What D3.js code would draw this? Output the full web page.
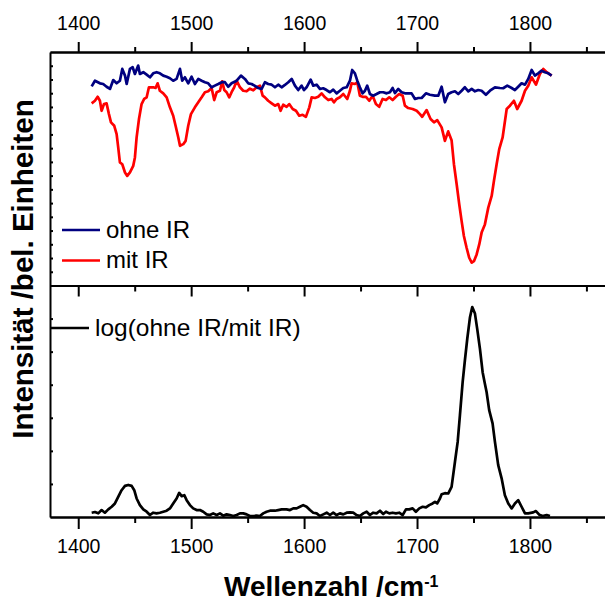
<!DOCTYPE html>
<meta charset="utf-8" />
<head>
  <style>
    body {
      margin: 0;
      background: #fff;
    }
    svg text {
      font-family: "Liberation Sans", Arial, sans-serif;
    }
    .frame path,
    .frame line {
      stroke: #000;
      stroke-width: 2;
    }
  </style>
</head>
<script src="https://d3js.org/d3.v7.min.js"></script>
<body>
  <div id="chart"></div>
  <script>
    // Raman spectrum with / without IR, plus log ratio in the lower panel

    ////////////////////////////////////
    ///////////// Data /////////////////
    ////////////////////////////////////

    // ohne IR (blue)
    const ohneWn = [1411.9, 1414.8, 1419.2, 1422.1, 1425.1, 1428.1, 1431.0, 1434.0, 1436.9, 1439.0, 1441.4, 1442.9, 1445.8, 1448.2, 1450.2, 1453.1, 1454.6, 1457.6, 1460.6, 1463.5, 1466.4, 1469.4, 1472.3, 1475.3, 1478.3, 1481.2, 1484.1, 1487.1, 1490.1, 1492.1, 1494.5, 1497.4, 1500.4, 1503.3, 1506.3, 1509.3, 1512.2, 1515.1, 1518.1, 1521.0, 1524.0, 1527.0, 1529.9, 1532.8, 1535.8, 1540.3, 1544.1, 1547.6, 1550.5, 1553.5, 1556.5, 1559.4, 1562.4, 1565.3, 1568.2, 1571.3, 1574.2, 1577.1, 1580.1, 1583.0, 1586.0, 1589.0, 1591.9, 1594.8, 1597.8, 1599.9, 1602.2, 1605.8, 1608.1, 1611.1, 1614.0, 1616.9, 1619.9, 1622.9, 1625.8, 1628.8, 1631.7, 1634.7, 1637.7, 1640.6, 1642.6, 1645.0, 1647.1, 1649.4, 1651.8, 1653.9, 1655.9, 1658.3, 1661.2, 1664.2, 1667.2, 1670.1, 1673.1, 1676.0, 1678.4, 1680.4, 1683.4, 1686.4, 1689.3, 1692.2, 1695.2, 1698.2, 1701.1, 1704.1, 1707.9, 1711.4, 1715.8, 1718.8, 1721.8, 1724.7, 1727.6, 1730.6, 1733.6, 1736.5, 1739.5, 1742.4, 1745.4, 1748.4, 1751.3, 1754.2, 1757.2, 1761.0, 1764.6, 1769.0, 1773.4, 1776.3, 1779.9, 1783.8, 1786.7, 1789.6, 1792.6, 1795.6, 1798.5, 1801.5, 1804.4, 1807.3, 1810.3, 1813.2, 1816.2, 1819.2];
    const ohneInt = [1.450, 1.491, 1.472, 1.467, 1.447, 1.431, 1.496, 1.472, 1.491, 1.577, 1.528, 1.467, 1.577, 1.589, 1.540, 1.601, 1.540, 1.553, 1.535, 1.516, 1.545, 1.553, 1.545, 1.528, 1.520, 1.509, 1.491, 1.504, 1.577, 1.491, 1.516, 1.472, 1.520, 1.467, 1.504, 1.491, 1.480, 1.472, 1.443, 1.455, 1.467, 1.480, 1.480, 1.447, 1.472, 1.491, 1.528, 1.504, 1.472, 1.467, 1.453, 1.438, 1.431, 1.480, 1.467, 1.462, 1.443, 1.462, 1.443, 1.460, 1.480, 1.504, 1.455, 1.423, 1.455, 1.423, 1.443, 1.499, 1.455, 1.462, 1.431, 1.436, 1.423, 1.407, 1.426, 1.399, 1.418, 1.438, 1.443, 1.491, 1.569, 1.545, 1.491, 1.443, 1.399, 1.418, 1.455, 1.394, 1.382, 1.394, 1.407, 1.407, 1.399, 1.407, 1.438, 1.401, 1.431, 1.407, 1.399, 1.399, 1.399, 1.358, 1.365, 1.365, 1.399, 1.389, 1.382, 1.382, 1.447, 1.334, 1.394, 1.407, 1.414, 1.394, 1.418, 1.443, 1.414, 1.431, 1.414, 1.423, 1.418, 1.389, 1.418, 1.443, 1.438, 1.436, 1.455, 1.438, 1.423, 1.447, 1.472, 1.462, 1.504, 1.569, 1.528, 1.545, 1.564, 1.553, 1.545, 1.528];

    // mit IR (red)
    const mitWn = [1411.9, 1414.8, 1417.2, 1419.2, 1420.7, 1422.8, 1425.1, 1427.2, 1429.0, 1431.9, 1434.0, 1435.4, 1436.9, 1439.0, 1441.4, 1443.4, 1445.8, 1448.7, 1450.2, 1451.7, 1453.8, 1456.1, 1458.4, 1460.6, 1462.6, 1466.4, 1468.5, 1470.3, 1472.3, 1475.3, 1478.3, 1481.2, 1484.1, 1486.2, 1488.6, 1490.1, 1493.0, 1495.1, 1497.4, 1499.8, 1503.3, 1506.3, 1509.3, 1512.2, 1515.1, 1518.1, 1520.4, 1522.6, 1525.5, 1527.5, 1529.3, 1531.4, 1533.7, 1535.8, 1538.1, 1540.3, 1543.2, 1546.1, 1549.1, 1552.0, 1555.0, 1558.0, 1560.9, 1563.3, 1565.3, 1568.2, 1571.3, 1574.2, 1577.1, 1579.2, 1581.5, 1584.5, 1586.8, 1589.9, 1592.8, 1595.7, 1598.7, 1601.6, 1604.6, 1606.7, 1609.6, 1612.5, 1615.5, 1618.5, 1621.4, 1624.4, 1626.4, 1628.8, 1631.7, 1634.7, 1638.2, 1640.6, 1642.1, 1645.0, 1647.1, 1649.4, 1651.8, 1654.8, 1657.7, 1660.7, 1663.6, 1666.5, 1669.5, 1672.5, 1675.4, 1678.4, 1681.3, 1684.2, 1687.3, 1689.3, 1692.2, 1696.1, 1699.7, 1702.6, 1704.6, 1708.5, 1712.0, 1715.0, 1717.9, 1721.8, 1724.7, 1727.6, 1730.6, 1732.7, 1735.1, 1737.4, 1739.5, 1741.5, 1743.9, 1746.2, 1748.4, 1750.4, 1752.8, 1755.1, 1757.2, 1760.1, 1763.1, 1766.1, 1768.1, 1770.5, 1772.8, 1775.8, 1779.4, 1782.3, 1785.8, 1788.7, 1792.6, 1795.6, 1798.5, 1801.5, 1805.3, 1808.8, 1811.8, 1814.8, 1819.2];
    const mitInt = [1.326, 1.345, 1.374, 1.345, 1.272, 1.321, 1.326, 1.248, 1.188, 1.163, 1.102, 1.005, 0.896, 0.883, 0.823, 0.798, 0.823, 0.871, 0.932, 1.078, 1.212, 1.321, 1.358, 1.370, 1.443, 1.443, 1.438, 1.472, 1.418, 1.399, 1.370, 1.297, 1.236, 1.163, 1.078, 1.017, 1.029, 1.053, 1.163, 1.248, 1.297, 1.334, 1.370, 1.407, 1.414, 1.438, 1.350, 1.407, 1.418, 1.487, 1.423, 1.407, 1.370, 1.407, 1.443, 1.491, 1.443, 1.418, 1.414, 1.433, 1.421, 1.443, 1.455, 1.382, 1.370, 1.345, 1.326, 1.309, 1.321, 1.272, 1.316, 1.301, 1.321, 1.285, 1.272, 1.236, 1.243, 1.228, 1.297, 1.370, 1.365, 1.374, 1.399, 1.370, 1.350, 1.358, 1.334, 1.358, 1.370, 1.394, 1.358, 1.418, 1.472, 1.467, 1.480, 1.382, 1.374, 1.374, 1.345, 1.382, 1.321, 1.301, 1.358, 1.350, 1.370, 1.350, 1.374, 1.394, 1.382, 1.309, 1.292, 1.285, 1.272, 1.248, 1.228, 1.277, 1.212, 1.188, 1.204, 1.151, 1.053, 1.122, 1.058, 0.883, 0.737, 0.591, 0.469, 0.360, 0.275, 0.202, 0.166, 0.177, 0.226, 0.299, 0.385, 0.445, 0.567, 0.652, 0.761, 0.883, 0.993, 1.078, 1.285, 1.309, 1.345, 1.285, 1.345, 1.418, 1.455, 1.516, 1.462, 1.540, 1.577, 1.553, 1.528];

    // log(ohne IR / mit IR) (black)
    const logWn = [1411.9, 1414.8, 1417.7, 1420.7, 1423.6, 1426.6, 1429.6, 1432.5, 1435.4, 1438.4, 1441.4, 1444.3, 1447.3, 1449.6, 1451.7, 1454.6, 1457.6, 1460.6, 1463.5, 1466.4, 1469.4, 1472.3, 1475.3, 1478.3, 1481.2, 1484.1, 1487.1, 1489.4, 1491.6, 1493.9, 1496.0, 1498.9, 1501.8, 1504.8, 1507.8, 1510.7, 1513.7, 1516.6, 1519.5, 1522.6, 1525.5, 1528.4, 1531.4, 1534.3, 1537.3, 1540.3, 1543.2, 1546.1, 1549.1, 1552.0, 1555.0, 1558.0, 1560.9, 1563.8, 1566.8, 1569.8, 1574.2, 1577.1, 1580.1, 1584.5, 1587.5, 1590.4, 1593.4, 1596.3, 1599.2, 1602.2, 1605.2, 1608.1, 1611.1, 1614.0, 1617.0, 1620.0, 1622.9, 1625.8, 1628.8, 1631.7, 1634.7, 1637.7, 1640.6, 1643.5, 1646.5, 1649.4, 1652.4, 1655.4, 1658.3, 1661.2, 1664.2, 1667.2, 1670.1, 1672.5, 1675.4, 1678.4, 1681.3, 1684.2, 1687.3, 1690.2, 1693.1, 1696.1, 1699.0, 1702.0, 1705.0, 1707.9, 1710.8, 1713.8, 1715.9, 1717.9, 1720.3, 1721.8, 1724.7, 1727.6, 1730.6, 1733.6, 1736.0, 1738.0, 1740.4, 1742.4, 1744.5, 1746.9, 1748.9, 1751.3, 1753.3, 1755.7, 1758.1, 1760.1, 1761.6, 1763.9, 1766.9, 1769.0, 1771.9, 1774.9, 1777.8, 1780.8, 1783.8, 1786.7, 1789.6, 1792.6, 1795.6, 1798.5, 1802.9, 1805.3, 1808.2, 1811.2, 1814.8, 1817.7];
    const logVal = [0.013, 0.015, 0.011, 0.021, 0.013, 0.023, 0.031, 0.041, 0.061, 0.081, 0.094, 0.097, 0.094, 0.081, 0.056, 0.036, 0.023, 0.016, 0.006, 0.013, 0.011, 0.013, 0.016, 0.019, 0.026, 0.041, 0.056, 0.073, 0.063, 0.066, 0.051, 0.036, 0.026, 0.021, 0.021, 0.016, 0.008, 0.006, 0.011, 0.006, 0.011, 0.004, 0.008, 0.006, 0.003, 0.006, 0.011, 0.011, 0.008, 0.003, 0.003, 0.004, 0.003, 0.011, 0.016, 0.019, 0.019, 0.021, 0.023, 0.023, 0.021, 0.026, 0.026, 0.031, 0.036, 0.031, 0.021, 0.013, 0.011, 0.003, 0.008, 0.013, 0.006, 0.013, 0.006, 0.011, 0.008, 0.013, 0.014, 0.013, 0.006, 0.003, 0.011, 0.016, 0.006, 0.013, 0.011, 0.019, 0.009, 0.016, 0.011, 0.013, 0.011, 0.013, 0.006, 0.023, 0.023, 0.026, 0.016, 0.026, 0.031, 0.029, 0.036, 0.041, 0.046, 0.041, 0.056, 0.069, 0.072, 0.071, 0.091, 0.167, 0.227, 0.308, 0.408, 0.474, 0.539, 0.604, 0.635, 0.615, 0.569, 0.509, 0.438, 0.403, 0.378, 0.323, 0.283, 0.227, 0.157, 0.117, 0.066, 0.041, 0.026, 0.041, 0.051, 0.031, 0.011, 0.011, 0.014, 0.018, 0.007, 0.003, 0.006, 0.003];

    // tick labels
    const majorTicks = [1400, 1500, 1600, 1700, 1800];
    const minorTicks = [1450, 1550, 1650, 1750, 1850];
    const topYTicks = d3.range(1, 17).map((d) => d / 10);
    const bottomYTicks = d3.range(1, 7).map((d) => d / 10);

    const legendTop = ["ohne IR", "mit IR"];
    const legendBottom = "log(ohne IR/mit IR)";

    ////////////////////////////////////
    ///////////// SVG Setup ////////////
    ////////////////////////////////////

    const svgWidth = 605;
    const svgHeight = 601;

    const plotLeft = 50;
    const plotTop = 52;
    const plotMid = 285.5;
    const plotBottom = 517;

    const svg = d3
      .select("#chart")
      .append("svg")
      .attr("width", svgWidth)
      .attr("height", svgHeight);

    ////////////////////////////////////
    ///////////// Scales ///////////////
    ////////////////////////////////////

    // 100 cm-1 = ~113 px, plot runs past the right edge of the picture
    const xScale = d3
      .scaleLinear()
      .domain([1375, 1875])
      .range([plotLeft, plotLeft + 500 * 1.1293]);

    const yTop = d3.scaleLinear().domain([0, 1.7]).range([plotMid, plotTop]);
    const yBottom = d3.scaleLinear().domain([0, 0.7]).range([plotBottom, plotMid]);

    ////////////////////////////////////
    ///////////// Axes /////////////////
    ////////////////////////////////////

    function styleTicks(g, size) {
      g.selectAll("text")
        .attr("font-size", size)
        .attr("fill", "#000");
    }

    // top axis with labels
    svg
      .append("g")
      .attr("class", "frame")
      .attr("transform", `translate(0,${plotTop})`)
      .call(
        d3
          .axisTop(xScale)
          .tickValues(majorTicks)
          .tickFormat(d3.format("d"))
          .tickSize(10)
          .tickSizeOuter(0)
          .tickPadding(12)
      )
      .call((g) => styleTicks(g, "19.5px"));
    svg
      .append("g")
      .attr("class", "frame")
      .attr("transform", `translate(0,${plotTop})`)
      .call(d3.axisTop(xScale).tickValues(minorTicks).tickSize(5).tickSizeOuter(0).tickFormat(""));

    // divider between panels
    svg
      .append("g")
      .attr("class", "frame")
      .attr("transform", `translate(0,${plotMid})`)
      .call(d3.axisBottom(xScale).tickValues(majorTicks).tickSize(11).tickSizeOuter(0).tickFormat(""));
    svg
      .append("g")
      .attr("class", "frame")
      .attr("transform", `translate(0,${plotMid})`)
      .call(d3.axisBottom(xScale).tickValues(minorTicks).tickSize(6).tickSizeOuter(0).tickFormat(""));

    // bottom axis with labels
    svg
      .append("g")
      .attr("class", "frame")
      .attr("transform", `translate(0,${plotBottom})`)
      .call(
        d3
          .axisBottom(xScale)
          .tickValues(majorTicks)
          .tickFormat(d3.format("d"))
          .tickSize(12)
          .tickSizeOuter(0)
          .tickPadding(10)
      )
      .call((g) => styleTicks(g, "19.5px"));
    svg
      .append("g")
      .attr("class", "frame")
      .attr("transform", `translate(0,${plotBottom})`)
      .call(d3.axisBottom(xScale).tickValues(minorTicks).tickSize(6).tickSizeOuter(0).tickFormat(""));

    // left axes, inward ticks, no labels
    svg
      .append("g")
      .attr("class", "frame")
      .attr("transform", `translate(${plotLeft},0)`)
      .call(d3.axisRight(yTop).tickValues(topYTicks).tickSize(3).tickSizeOuter(0).tickFormat(""));
    svg
      .append("g")
      .attr("class", "frame")
      .attr("transform", `translate(${plotLeft},0)`)
      .call(d3.axisRight(yBottom).tickValues(bottomYTicks).tickSize(3).tickSizeOuter(0).tickFormat(""));

    ////////////////////////////////////
    ///////////// Lines ////////////////
    ////////////////////////////////////

    function drawLine(wn, vals, yScale, color) {
      const pts = wn.map((w, i) => [w, vals[i]]);
      svg
        .append("path")
        .datum(pts)
        .attr("fill", "none")
        .attr("stroke", color)
        .attr("stroke-width", 2.7)
        .attr("stroke-linejoin", "round")
        .attr(
          "d",
          d3
            .line()
            .x((d) => xScale(d[0]))
            .y((d) => yScale(d[1]))
        );
    }

    drawLine(mitWn, mitInt, yTop, "#ff0000");
    drawLine(ohneWn, ohneInt, yTop, "#000080");
    drawLine(logWn, logVal, yBottom, "#000");

    ////////////////////////////////////
    ///////////// Legends //////////////
    ////////////////////////////////////

    const legendColors = ["#000080", "#ff0000"];
    legendTop.forEach((label, i) => {
      const ly = 230 + i * 30.5;
      svg
        .append("line")
        .attr("x1", 62)
        .attr("x2", 100)
        .attr("y1", ly)
        .attr("y2", ly)
        .attr("stroke", legendColors[i])
        .attr("stroke-width", 2.7);
      svg
        .append("text")
        .attr("x", 106)
        .attr("y", ly + 7.5)
        .attr("font-size", "24px")
        .text(label);
    });

    svg
      .append("line")
      .attr("x1", 50)
      .attr("x2", 89)
      .attr("y1", 328)
      .attr("y2", 328)
      .attr("stroke", "#000")
      .attr("stroke-width", 2.7);
    svg
      .append("text")
      .attr("x", 95)
      .attr("y", 335.5)
      .attr("font-size", "24.5px")
      .text(legendBottom);

    ////////////////////////////////////
    ///////////// Titles ///////////////
    ////////////////////////////////////

    svg
      .append("text")
      .attr("transform", "translate(33,269) rotate(-90)")
      .attr("text-anchor", "middle")
      .attr("font-size", "29.5px")
      .attr("font-weight", 700)
      .text("Intensität /bel. Einheiten");

    const xTitle = svg
      .append("text")
      .attr("x", 224)
      .attr("y", 596)
      .attr("font-size", "28px")
      .attr("font-weight", 700);
    xTitle.append("tspan").text("Wellenzahl /cm");
    xTitle.append("tspan").attr("dy", -9).attr("font-size", "16px").text("-1");
  </script>
</body>
